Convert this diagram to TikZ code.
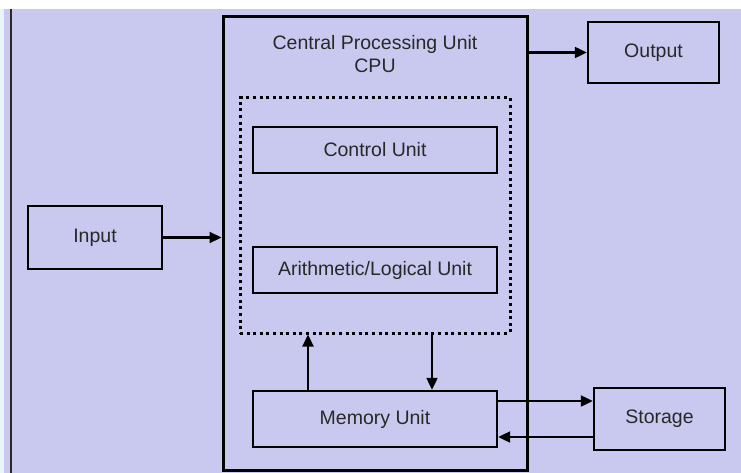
\documentclass[tikz,border=0pt]{standalone}
\usepackage{fontspec}
\setmainfont{Liberation Sans}
\usetikzlibrary{arrows.meta}
\definecolor{lavender}{RGB}{201,201,239}
\definecolor{paleside}{RGB}{232,246,252}
\definecolor{inkgray}{RGB}{40,40,40}

\begin{document}
\begin{tikzpicture}[x=1pt, y=-1pt,
		unitbox/.style={draw=black, line width=2.4pt, fill=none, inner sep=0pt,
			text=inkgray, font=\fontsize{19.5}{23}\selectfont},
		corebox/.style={draw=black, line width=3pt, dash pattern=on 3pt off 3.6pt,
			inner sep=0pt},
		flow/.style={-{Triangle[length=12pt,width=11pt]}, line width=2.2pt, black}]
	\useasboundingbox (0,0) rectangle (741,473);
	\fill[white] (0,0) rectangle (741,473);
	\fill[paleside] (0,9) rectangle (4,473);
	\fill[lavender] (4,9) rectangle (741,473);
	\draw[inkgray, line width=2.2pt] (11,9) -- (11,473);
	
	% CPU and its parts
	\node[unitbox, line width=3pt, minimum width=304pt, minimum height=453pt] (cpu) at (375,243.5) {};
	\node[text=inkgray, font=\fontsize{19.5}{23}\selectfont, align=center] (cputitle) at (375,54)
	{Central Processing Unit\\CPU};
	\node[corebox, minimum width=270pt, minimum height=235pt] (core) at (375,215.5) {};
	\node[unitbox, minimum width=244pt, minimum height=46pt] (ctrl) at (375,150) {Control Unit};
	\node[unitbox, minimum width=244pt, minimum height=46pt] (alu) at (375,270) {Arithmetic/Logical Unit};
	\node[unitbox, minimum width=244pt, minimum height=56pt] (mem) at (375,419) {Memory Unit};
	
	% outside units
	\node[unitbox, minimum width=134pt, minimum height=63pt] (inp) at (95,237.5) {Input};
	\node[unitbox, minimum width=131pt, minimum height=61pt] (out) at (653.5,52.5) {Output};
	\node[unitbox, minimum width=131pt, minimum height=62pt] (sto) at (659.5,419) {Storage};
	
	% connectors
	\draw[flow] (inp.east) -- (inp.east -| cpu.west);
	\draw[flow] (cpu.east |- out.west) -- (out.west);
	\draw[flow] ([xshift=-67pt]mem.north) -- ([xshift=-67pt]mem.north |- core.south);
	\draw[flow] ([xshift=57pt]mem.north |- core.south) -- ([xshift=57pt]mem.north);
	\draw[flow] ([yshift=18pt]mem.east) -- ([yshift=18pt]mem.east -| sto.west);
	\draw[flow] ([yshift=-18pt]sto.west) -- ([yshift=-18pt]sto.west -| mem.east);
\end{tikzpicture}
\end{document}
